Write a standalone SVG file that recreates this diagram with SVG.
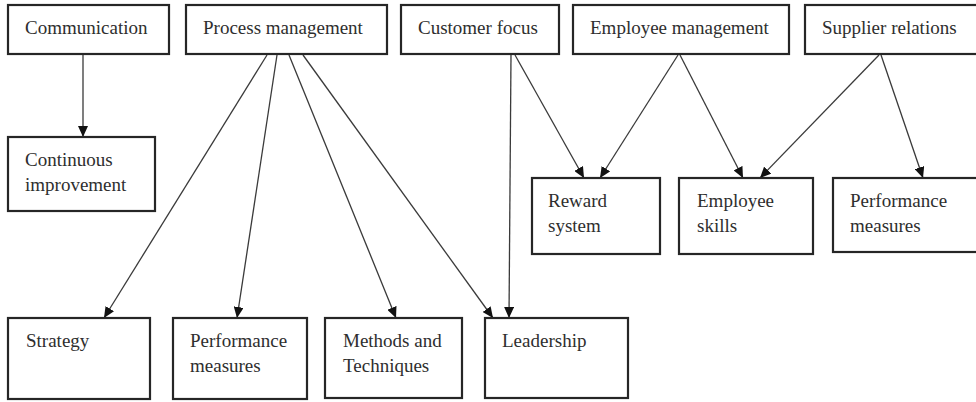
<svg xmlns="http://www.w3.org/2000/svg" width="976" height="402" viewBox="0 0 976 402">
  <defs>
    <style>
      .box { fill: #ffffff; stroke: #262626; stroke-width: 2.2; }
      .lbl { font-family: 'Liberation Serif', Tinos, 'Times New Roman', 'DejaVu Serif', serif; font-size: 19px; fill: #2e2e2e; }
      .edge { fill: none; stroke: #3a3a3a; stroke-width: 1.3; marker-end: url(#arrow); }
    </style>
    <marker id="arrow" markerUnits="userSpaceOnUse" markerWidth="12" markerHeight="10" refX="11" refY="5" orient="auto">
      <path d="M0,0 L11,5 L0,10 Z" fill="#111111"/>
    </marker>
  </defs>
  <rect width="976" height="402" fill="#ffffff"/>

  <!-- connectors -->
  <g id="connectors">
    <line class="edge" x1="83" y1="55" x2="83" y2="137"/>
    <line class="edge" x1="267" y1="55" x2="104" y2="318"/>
    <line class="edge" x1="277" y1="55" x2="237" y2="318"/>
    <line class="edge" x1="289" y1="55" x2="396" y2="318"/>
    <line class="edge" x1="303" y1="55" x2="493" y2="318"/>
    <line class="edge" x1="511" y1="55" x2="509" y2="318"/>
    <line class="edge" x1="515" y1="55" x2="584" y2="178"/>
    <line class="edge" x1="678" y1="55" x2="600" y2="178"/>
    <line class="edge" x1="680" y1="55" x2="743" y2="178"/>
    <line class="edge" x1="879" y1="55" x2="760" y2="178"/>
    <line class="edge" x1="881" y1="55" x2="923" y2="178"/>
  </g>

  <g font-family="'Liberation Serif', Tinos, 'Times New Roman', 'DejaVu Serif', serif">
  <!-- top row -->
  <g id="communication">
    <rect class="box" x="8" y="5" width="161" height="49"/>
    <text class="lbl" x="25" y="34">Communication</text>
  </g>
  <g id="process-management">
    <rect class="box" x="186" y="5" width="201" height="49"/>
    <text class="lbl" x="203" y="34">Process management</text>
  </g>
  <g id="customer-focus">
    <rect class="box" x="401" y="5" width="158" height="49"/>
    <text class="lbl" x="418" y="34">Customer focus</text>
  </g>
  <g id="employee-management">
    <rect class="box" x="573" y="5" width="216" height="49"/>
    <text class="lbl" x="590" y="34">Employee management</text>
  </g>
  <g id="supplier-relations">
    <rect class="box" x="805" y="5" width="180" height="49"/>
    <text class="lbl" x="822" y="34">Supplier relations</text>
  </g>

  <!-- middle row -->
  <g id="continuous-improvement">
    <rect class="box" x="8" y="137" width="147" height="74"/>
    <text class="lbl" x="25" y="166">Continuous</text>
    <text class="lbl" x="25" y="191">improvement</text>
  </g>
  <g id="reward-system">
    <rect class="box" x="532" y="178" width="128" height="76"/>
    <text class="lbl" x="548" y="207">Reward</text>
    <text class="lbl" x="548" y="232">system</text>
  </g>
  <g id="employee-skills">
    <rect class="box" x="679" y="178" width="134" height="76"/>
    <text class="lbl" x="697" y="207">Employee</text>
    <text class="lbl" x="697" y="232">skills</text>
  </g>
  <g id="performance-measures-supplier">
    <rect class="box" x="833" y="178" width="150" height="74"/>
    <text class="lbl" x="850" y="207">Performance</text>
    <text class="lbl" x="850" y="232">measures</text>
  </g>

  <!-- bottom row -->
  <g id="strategy">
    <rect class="box" x="8" y="318" width="142" height="81"/>
    <text class="lbl" x="26" y="347">Strategy</text>
  </g>
  <g id="performance-measures">
    <rect class="box" x="173" y="318" width="134" height="81"/>
    <text class="lbl" x="190" y="347">Performance</text>
    <text class="lbl" x="190" y="372">measures</text>
  </g>
  <g id="methods-techniques">
    <rect class="box" x="325" y="318" width="137" height="80"/>
    <text class="lbl" x="343" y="347">Methods and</text>
    <text class="lbl" x="343" y="372">Techniques</text>
  </g>
  <g id="leadership">
    <rect class="box" x="485" y="318" width="143" height="80"/>
    <text class="lbl" x="502" y="347">Leadership</text>
  </g>
  </g>
</svg>
